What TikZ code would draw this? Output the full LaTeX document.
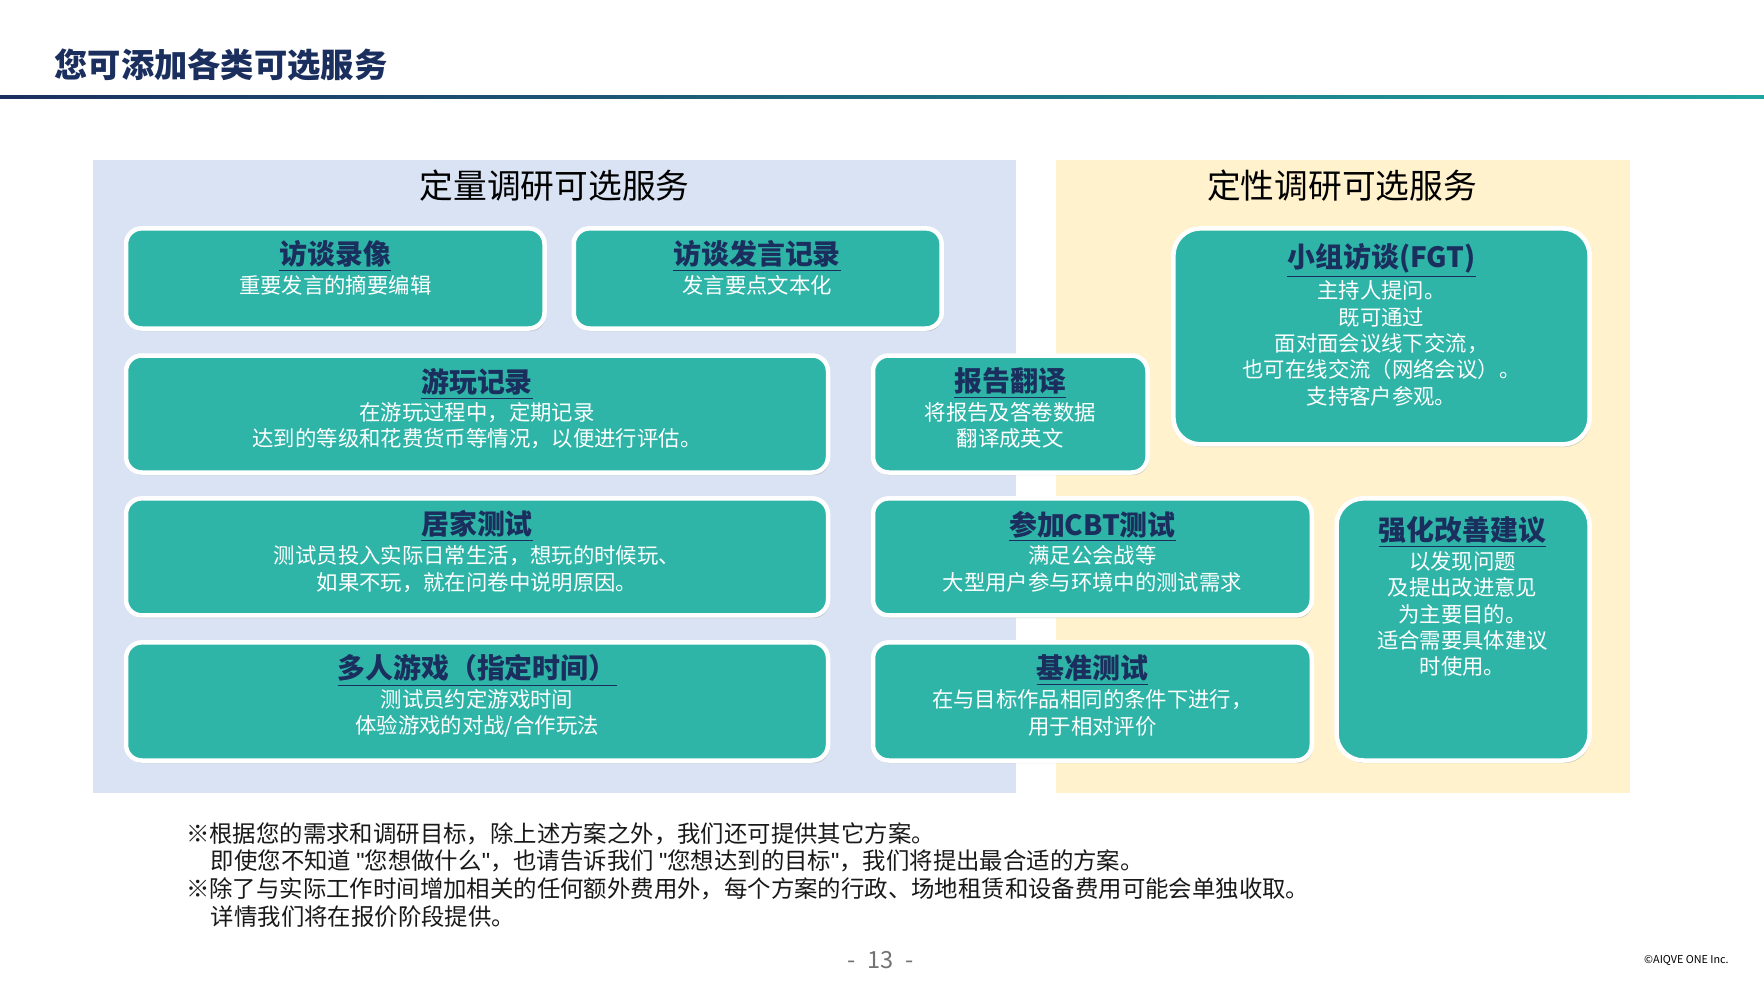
\documentclass[tikz,border=0pt]{standalone}
\usepackage{fontspec}
\setmainfont{Noto Sans CJK SC}
\newfontfamily\lat{Liberation Sans}
\usetikzlibrary{fit,shadows}
\definecolor{tealc}{HTML}{2EB5A8}
\definecolor{navy}{HTML}{1B2F5E}
\definecolor{bluep}{HTML}{DAE3F3}
\definecolor{yelp}{HTML}{FFF2CC}
\definecolor{lteal}{HTML}{1FA5A0}
\begin{document}
\begin{tikzpicture}[x=0.5pt,y=-0.5pt,
  card/.style={fill=tealc,draw=white,line width=2pt,inner sep=0pt,rounded corners=7pt,
    drop shadow={opacity=0.35,shadow xshift=0.6pt,shadow yshift=-1.2pt}},
  ttl/.style={text=navy,font=\fontsize{12.4}{14}\selectfont\bfseries},
  bd/.style={text=white,font=\fontsize{9.5}{11}\selectfont,inner sep=0pt},
  hd/.style={text=black,font=\fontsize{15}{17}\selectfont},
  fn/.style={anchor=west,inner sep=0pt,text=black!90,font=\fontsize{10.4}{12}\selectfont}]
\useasboundingbox (0,0) rectangle (1568,882);
\fill[white] (0,0) rectangle (1568,882);
\node[anchor=west,text=navy,font=\fontsize{14.8}{16}\selectfont\bfseries,inner sep=0] (title) at (48,58) {您可添加各类可选服务};
\shade[left color=navy,right color=lteal] (0,84.5) rectangle (1568,87.5);
\fill[bluep] (83,142) rectangle (903,705);
\fill[yelp] (939,142) rectangle (1449,705);
\node[hd] (h1) at (493,165) {定量调研可选服务};
\node[hd] (h2) at (1193,165) {定性调研可选服务};
% cards
\node[card,fit={(112,203)(484,292)}] (c1) {};
\node[card,fit={(510,203)(837,292)}] (c2) {};
\node[card,fit={(112,316)(736,420)}] (c3) {};
\node[card,fit={(776,316)(1020,420)}] (c4) {};
\node[card,fit={(112,443)(736,547)}] (c5) {};
\node[card,fit={(776,443)(1166,547)}] (c6) {};
\node[card,fit={(112,571)(736,676)}] (c7) {};
\node[card,fit={(776,571)(1166,676)}] (c8) {};
\node[card,rounded corners=12pt,fit={(1043,203)(1413,395)}] (c9) {};
\node[card,rounded corners=12pt,fit={(1188,443)(1413,676)}] (c10) {};
% texts
\node[ttl] (t1) at (298,228) {\underline{访谈录像}};
\node[bd] (b1) at (298,254) {重要发言的摘要编辑};
\node[ttl] (t2) at (673,228) {\underline{访谈发言记录}};
\node[bd] (b2) at (673,254) {发言要点文本化};
\node[ttl] (t3) at (424,341) {\underline{游玩记录}};
\node[bd] (b3a) at (424,367) {在游玩过程中，定期记录};
\node[bd] (b3b) at (424,390) {达到的等级和花费货币等情况，以便进行评估。};
\node[ttl] (t4) at (898,341) {\underline{报告翻译}};
\node[bd] (b4a) at (898,367) {将报告及答卷数据};
\node[bd] (b4b) at (898,390) {翻译成英文};
\node[ttl] (t5) at (424,468) {\underline{居家测试}};
\node[bd] (b5a) at (424,494) {测试员投入实际日常生活，想玩的时候玩、};
\node[bd] (b5b) at (424,518) {如果不玩，就在问卷中说明原因。};
\node[ttl] (t6) at (971,468) {\underline{参加CBT测试}};
\node[bd] (b6a) at (971,494) {满足公会战等};
\node[bd] (b6b) at (971,518) {大型用户参与环境中的测试需求};
\node[ttl] (t7) at (424,596) {\underline{多人游戏（指定时间）}};
\node[bd] (b7a) at (424,622) {测试员约定游戏时间};
\node[bd] (b7b) at (424,646) {体验游戏的对战/合作玩法};
\node[ttl] (t8) at (971,596) {\underline{基准测试}};
\node[bd] (b8a) at (971,622) {在与目标作品相同的条件下进行，};
\node[bd] (b8b) at (971,646) {用于相对评价};
\node[ttl] (t9) at (1228,232) {\underline{小组访谈(FGT)}};
\node[bd] (b9a) at (1228,258) {主持人提问。};
\node[bd] (b9b) at (1228,282) {既可通过};
\node[bd] (b9c) at (1228,305) {面对面会议线下交流，};
\node[bd] (b9d) at (1228,328) {也可在线交流（网络会议）。};
\node[bd] (b9e) at (1228,352) {支持客户参观。};
\node[ttl] (t10) at (1300,473) {\underline{强化改善建议}};
\node[bd] (b10a) at (1300,499) {以发现问题};
\node[bd] (b10b) at (1300,522) {及提出改进意见};
\node[bd] (b10c) at (1300,546) {为主要目的。};
\node[bd] (b10d) at (1300,569) {适合需要具体建议};
\node[bd] (b10e) at (1300,592) {时使用。};
% footnotes
\node[fn] (f1) at (165,741) {※根据您的需求和调研目标，除上述方案之外，我们还可提供其它方案。};
\node[fn] (f2) at (187,765) {即使您不知道 {\lat "}您想做什么{\lat "}，也请告诉我们 {\lat "}您想达到的目标{\lat "}，我们将提出最合适的方案。};
\node[fn] (f3) at (165,790) {※除了与实际工作时间增加相关的任何额外费用外，每个方案的行政、场地租赁和设备费用可能会单独收取。};
\node[fn] (f4) at (187,815) {详情我们将在报价阶段提供。};
\node[text=black!55,font=\fontsize{10.5}{12}\selectfont] (pg) at (783,853) {-\enspace13\enspace-};
\node[anchor=east,inner sep=0,font=\fontsize{4.8}{5}\selectfont] (cp) at (1537,854) {©AIQVE ONE Inc.};
\end{tikzpicture}
\end{document}
